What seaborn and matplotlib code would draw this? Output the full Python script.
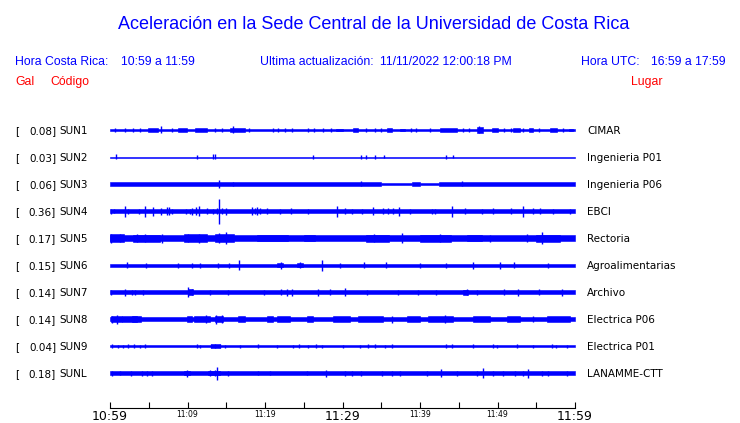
import matplotlib
matplotlib.use("Agg")
import matplotlib.pyplot as plt
import seaborn as sns

# ---------------------------------------------------------------------------
# Colours / canvas
# ---------------------------------------------------------------------------
BLUE = "#0000FF"
RED = "#FF0000"
W, H = 740, 423          # output size in pixels
DPI = 100

# ---------------------------------------------------------------------------
# Header text
# ---------------------------------------------------------------------------
TITLE = "Aceleración en la Sede Central de la Universidad de Costa Rica"
HORA_CR = "10:59 a 11:59"
HORA_UTC = "16:59 a 17:59"
UPDATED = "11/11/2022 12:00:18 PM"

# ---------------------------------------------------------------------------
# Stations
# ---------------------------------------------------------------------------
CODES = ["SUN1", "SUN2", "SUN3", "SUN4", "SUN5",
         "SUN6", "SUN7", "SUN8", "SUN9", "SUNL"]
PEAKS_GAL = [0.08, 0.03, 0.06, 0.36, 0.17, 0.15, 0.14, 0.14, 0.04, 0.18]
PLACES = ["CIMAR", "Ingenieria P01", "Ingenieria P06", "EBCI", "Rectoria",
          "Agroalimentarias", "Archivo", "Electrica P06", "Electrica P01",
          "LANAMME-CTT"]

# time axis: minutes after 10:59
SPAN_MIN = 60
TICK_MIN = list(range(0, SPAN_MIN + 1, 5))
TICK_LABELS = ["10:59", "", "11:09", "", "11:19", "", "11:29", "",
               "11:39", "", "11:49", "", "11:59"]
BIG_TICKS = ["10:59", "11:29", "11:59"]

# ---------------------------------------------------------------------------
# Trace envelopes (minute, half amplitude)
# background level per stretch: (start, end, half)
# ---------------------------------------------------------------------------
BASE = {
    "SUN1": [(0, 60, 0.8)],
    "SUN2": [(0, 60, 0.5)],
    "SUN3": [(0, 35, 1.7), (35, 39, 0.6), (39, 40, 1.7), (40, 42.5, 0.6),
             (42.5, 60, 1.7)],
    "SUN4": [(0, 60, 1.7)],
    "SUN5": [(0, 60, 3.0)],
    "SUN6": [(0, 60, 1.5)],
    "SUN7": [(0, 60, 1.7)],
    "SUN8": [(0, 60, 2.1)],
    "SUN9": [(0, 60, 0.6)],
    "SUNL": [(0, 60, 1.7)],
}

BURSTS = {
    "SUN1": [(4.9, 6.2, 1.8), (8.8, 9.9, 1.8), (11.0, 12.5, 1.8),
             (15.5, 17.4, 1.8), (29.2, 30.0, 1.4), (31.4, 32.0, 1.8),
             (35.7, 36.4, 1.8), (37.4, 38.0, 1.4), (42.6, 44.8, 1.8),
             (47.4, 48.1, 2.6), (49.3, 50.0, 1.8), (52.0, 52.9, 1.8),
             (54.0, 54.6, 1.8), (56.8, 57.7, 1.8), (59.2, 59.7, 1.4)],
    "SUN2": [],
    "SUN3": [],
    "SUN4": [],
    "SUN5": [(0.0, 1.8, 3.6), (3.0, 6.5, 3.5), (9.5, 12.5, 3.6),
             (13.5, 16.0, 3.6), (19.0, 23.0, 3.4), (25.0, 26.5, 3.4),
             (33.0, 36.0, 3.5), (40.0, 44.0, 3.5), (46.0, 48.0, 3.4),
             (55.0, 58.0, 3.5)],
    "SUN6": [(21.5, 22.3, 2.3), (24.1, 24.9, 2.1)],
    "SUN7": [(10.0, 10.7, 2.8), (45.5, 46.2, 2.5)],
    "SUN8": [(0.1, 1.6, 2.8), (1.6, 3.5, 2.6), (2.8, 4.0, 2.8),
             (9.9, 10.6, 2.8), (10.9, 12.9, 2.8), (13.5, 14.6, 3.2),
             (16.5, 17.4, 2.8), (20.3, 21.0, 2.8), (21.5, 23.2, 2.8),
             (25.4, 26.2, 2.8), (28.8, 31.0, 2.8), (32.0, 35.2, 2.8),
             (38.3, 40.0, 2.8), (41.0, 44.3, 3.0), (46.8, 49.0, 2.8),
             (51.2, 52.9, 2.8), (56.4, 59.4, 2.8)],
    "SUN9": [(13.0, 14.2, 1.6)],
    "SUNL": [(9.5, 10.3, 2.3), (12.6, 14.2, 2.3)],
}

SPIKES = {
    "SUN1": [(0.6, 2), (1.9, 2), (3.0, 2), (3.9, 2), (6.6, 3.5), (8.0, 2),
             (13.5, 2), (14.4, 2), (15.9, 3.5), (17.9, 2), (21.0, 2),
             (21.7, 2), (22.6, 2), (23.5, 2), (25.6, 2), (26.3, 2),
             (27.5, 2), (28.5, 2), (33.0, 2), (34.2, 2), (35.0, 2),
             (38.9, 2), (39.5, 2), (41.3, 2), (45.6, 2), (46.3, 2),
             (47.6, 3.5), (50.8, 2), (51.8, 2), (53.3, 2), (55.4, 2),
             (58.5, 2)],
    "SUN2": [(0.8, 2.5), (11.2, 1.8), (13.3, 2.5), (13.5, 2.5), (26.2, 1.8),
             (32.4, 2.2), (33.0, 2.2), (34.2, 1.8), (35.4, 1.5), (43.4, 2.2),
             (44.3, 1.5)],
    "SUN3": [(14.1, 4.0), (15.9, 2.3), (32.4, 2.5), (45.4, 2.5)],
    "SUN4": [(0.1, 2.5), (0.5, 2.2), (1.9, 5.5), (2.3, 2.5), (3.7, 2.5),
             (4.5, 5.5), (5.5, 4.5), (6.6, 3.5), (7.4, 4), (7.6, 4),
             (8.0, 2.5), (9.8, 2.5), (10.3, 2.5), (10.6, 3.5), (11.1, 4),
             (11.5, 5), (12.5, 3), (13.3, 2.5), (13.8, 3), (14.1, 12.5),
             (14.4, 3), (15.0, 3.5), (18.3, 4), (18.7, 3), (19.0, 4),
             (19.4, 3), (20.3, 3), (21.9, 2.5), (23.4, 3), (25.5, 2.5),
             (29.3, 5.5), (30.3, 3), (31.2, 2.5), (32.5, 2.5), (33.9, 4),
             (35.2, 3), (35.9, 3), (36.5, 3), (37.3, 4.5), (38.7, 2.5),
             (41.5, 2.5), (41.9, 2.5), (44.1, 5.5), (45.8, 3), (48.0, 2.5),
             (49.4, 3), (51.7, 3), (53.3, 5.5), (54.6, 3), (55.5, 3),
             (57.2, 2.5), (59.4, 2.5)],
    "SUN5": [(0.1, 4.5), (1.3, 4), (3.5, 4), (4.5, 4), (6.7, 4.5),
             (10.1, 4), (11.5, 4.5), (14.1, 5), (15.0, 6), (34.0, 4),
             (37.7, 5), (42.6, 4), (49.0, 3.5), (53.8, 4), (55.7, 6)],
    "SUN6": [(2.2, 3), (4.6, 2.5), (8.8, 2.5), (10.6, 2.5), (11.6, 2.5),
             (13.9, 2.5), (15.4, 2.5), (16.6, 5), (22.0, 3.5), (24.5, 3),
             (27.4, 5.5), (29.7, 2.5), (32.8, 3), (35.6, 3), (40.0, 2.5),
             (43.4, 2.5), (46.8, 3.5), (50.3, 3.5), (52.1, 3), (56.5, 2.5)],
    "SUN7": [(0.1, 2.5), (1.9, 3.5), (2.8, 2.5), (3.2, 2.5), (4.3, 2.5),
             (10.1, 5), (10.6, 3), (12.9, 2.5), (15.2, 2.5), (19.9, 2.5),
             (22.0, 3), (22.8, 3.5), (23.5, 3.5), (26.8, 3.5), (28.4, 3),
             (30.3, 4), (33.2, 2.5), (37.2, 2.5), (39.7, 2.5), (42.1, 2.5),
             (46.0, 3), (47.4, 2.5), (50.8, 3), (52.6, 3.5), (55.4, 3),
             (58.3, 3.5)],
    "SUN8": [(0.2, 3.5), (0.9, 4.5), (12.4, 4), (13.7, 4.5), (14.4, 4),
             (36.4, 3.5), (43.2, 4), (54.6, 3)],
    "SUN9": [(0.3, 2), (1.0, 1.5), (1.7, 1.5), (2.3, 2), (3.1, 2), (3.9, 1.5),
             (4.5, 2), (11.2, 2), (11.6, 1.5), (13.0, 2), (13.5, 2), (14.2, 2),
             (14.8, 1.5), (16.8, 1.5), (19.1, 2), (21.5, 1.5), (23.6, 1.5),
             (24.4, 2), (25.6, 1.5), (26.6, 2), (27.4, 1.5), (30.1, 1.5),
             (32.3, 1.5), (33.3, 2), (34.2, 2), (35.5, 1.5), (36.4, 2),
             (43.4, 2), (44.1, 2), (46.8, 2), (49.4, 2), (49.9, 1.5),
             (52.5, 2), (54.6, 1.5), (57.0, 2), (57.5, 1.5), (59.0, 1.5)],
    "SUNL": [(0.3, 2.5), (1.3, 2.3), (2.7, 2.5), (4.1, 2.5), (4.8, 2.5),
             (5.4, 2.5), (9.9, 3.5), (12.9, 3), (13.5, 3), (13.8, 6.5),
             (15.2, 2.5), (19.1, 2.3), (20.6, 2.3), (25.4, 2.3), (27.9, 3.5),
             (30.3, 2.5), (31.2, 2.5), (32.4, 2.5), (35.1, 2.5), (36.4, 2.5),
             (37.4, 2.5), (40.9, 2.5), (42.7, 4), (44.8, 2.5), (47.4, 2.5),
             (48.1, 5), (49.4, 2.5), (50.7, 2.5), (52.2, 2.5), (53.3, 2.5),
             (53.9, 4.5), (55.7, 2.5), (56.5, 2.5), (59.0, 2.5)],
}

# ---------------------------------------------------------------------------
# Layout (pixels)
# ---------------------------------------------------------------------------
AX_LEFT, AX_RIGHT = 110, 575
AX_TOP, AX_BOTTOM = 117, 408
ROW0, ROW_STEP = 130, 27


def fpos(x, y):
    """pixel position -> figure fraction"""
    return x / W, 1 - y / H


sns.set_theme(style="white")
plt.rcParams["font.family"] = ["DejaVu Sans"]

fig = plt.figure(figsize=(W / DPI, H / DPI), dpi=DPI)
fig.patch.set_facecolor("white")
ax = fig.add_axes([AX_LEFT / W, 1 - AX_BOTTOM / H,
                   (AX_RIGHT - AX_LEFT) / W, (AX_BOTTOM - AX_TOP) / H])
ax.set_facecolor("white")

# --- traces ---
for i, code in enumerate(CODES):
    yc = ROW0 + i * ROW_STEP
    for s, e, h in BASE[code]:
        ax.fill_between([s, e], yc - h, yc + h, color=BLUE, lw=0.4)
    for s, e, h in BURSTS[code]:
        ax.fill_between([s, e], yc - h, yc + h, color=BLUE, lw=0.4)
    xs = [m for m, _ in SPIKES[code]]
    amps = [a for _, a in SPIKES[code]]
    ax.vlines(xs, [yc - a for a in amps], [yc + a for a in amps],
              color=BLUE, lw=1.0)

    # left / right labels
    ty = yc + 3.7
    fig.text(*fpos(15, ty), "[", fontsize=7.5, color="black",
             ha="left", va="baseline")
    fig.text(*fpos(56, ty), f"{PEAKS_GAL[i]:.2f}]", fontsize=7.5,
             color="black", ha="right", va="baseline")
    fig.text(*fpos(59, ty), code, fontsize=7.5, color="black",
             ha="left", va="baseline")
    fig.text(*fpos(587, ty), PLACES[i], fontsize=7.5, color="black",
             ha="left", va="baseline")

ax.set_xlim(0, SPAN_MIN)
ax.set_ylim(AX_BOTTOM, AX_TOP)
ax.set_yticks([])
for side in ["top", "left", "right"]:
    ax.spines[side].set_visible(False)
ax.spines["bottom"].set_color("black")
ax.spines["bottom"].set_linewidth(0.8)

ax.set_xticks(TICK_MIN)
ax.set_xticklabels(TICK_LABELS)
ax.tick_params(axis="x", direction="in", length=4.3, width=0.8,
               color="black", pad=1.2, bottom=True, labelcolor="black")
for lbl in ax.get_xticklabels():
    lbl.set_fontsize(9 if lbl.get_text() in BIG_TICKS else 5.5)

# --- header ---
sans = "Liberation Sans"
hdr = dict(fontsize=8.8, family=sans, ha="left", va="baseline")
fig.text(*fpos(W / 2 + 4, 29), TITLE, fontsize=13, color=BLUE,
         family=sans, ha="center", va="baseline")
fig.text(*fpos(15, 65), "Hora Costa Rica:", color=BLUE, **hdr)
fig.text(*fpos(121, 65), HORA_CR, color=BLUE, **hdr)
fig.text(*fpos(260, 65), "Ultima actualización:", color=BLUE, **hdr)
fig.text(*fpos(380, 65), UPDATED, color=BLUE, **hdr)
fig.text(*fpos(581, 65), "Hora UTC:", color=BLUE, **hdr)
fig.text(*fpos(651, 65), HORA_UTC, color=BLUE, **hdr)
fig.text(*fpos(15, 85), "Gal", color=RED, **hdr)
fig.text(*fpos(50, 85), "Código", color=RED, **hdr)
fig.text(*fpos(631, 85), "Lugar", color=RED, **hdr)

fig.savefig("out.png", dpi=DPI, facecolor="white")
